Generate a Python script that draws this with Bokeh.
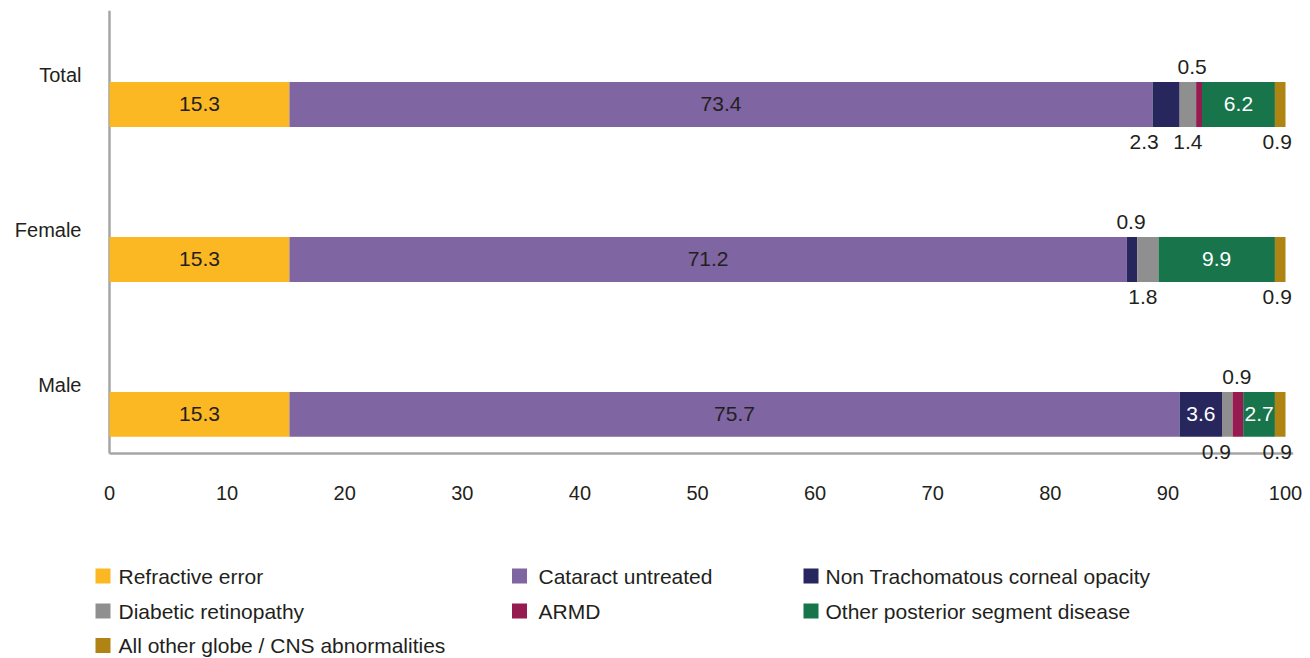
from bokeh.plotting import figure
from bokeh.models import ColumnDataSource, Range1d, FixedTicker
from bokeh.layouts import column
from bokeh.core.properties import value
from bokeh.embed import file_html
from bokeh.resources import INLINE

# ---- data -------------------------------------------------------------
categories = ["Total", "Female", "Male"]
series_names = [
    "Refractive error",
    "Cataract untreated",
    "Non Trachomatous corneal opacity",
    "Diabetic retinopathy",
    "ARMD",
    "Other posterior segment disease",
    "All other globe / CNS abnormalities",
]
refractive_error = [15.3, 15.3, 15.3]
cataract_untreated = [73.4, 71.2, 75.7]
corneal_opacity = [2.3, 0.9, 3.6]
diabetic_retinopathy = [1.4, 1.8, 0.9]
armd = [0.5, 0.0, 0.9]
posterior_segment = [6.2, 9.9, 2.7]
globe_cns = [0.9, 0.9, 0.9]
x_ticks = [0, 10, 20, 30, 40, 50, 60, 70, 80, 90, 100]

series_values = [refractive_error, cataract_untreated, corneal_opacity,
                 diabetic_retinopathy, armd, posterior_segment, globe_cns]

# ---- styling ------------------------------------------------------------
colors = ["#FBB823", "#7F65A1", "#27275D", "#8F8F8F", "#961B50", "#17744B", "#B08413"]
TEXT = "#231F20"
inside_text = [TEXT, TEXT, "#FFFFFF", TEXT, "#FFFFFF", "#FFFFFF", "#FFFFFF"]

# where each value label sits relative to its segment: in / above / below
placement = {
    "Total":  ["in", "in", "below", "below", "above", "in", "below"],
    "Female": ["in", "in", "above", "below", None, "in", "below"],
    "Male":   ["in", "in", "in", "below", "above", "in", "below"],
}
# small horizontal nudges (screen px) to keep neighbouring labels apart
nudge = {
    "Total":  [0, 0, -22, 0, -7, 0, -3],
    "Female": [0, 0, -1, -5, 0, 0, -3],
    "Male":   [0, 0, 0, -11, -1, 0, -3],
}

FONT = "Liberation Sans"
AXIS_GRAY = "#A6A6A6"

cat_y = {c: float(len(categories) - 1 - i) for i, c in enumerate(categories)}
bar_h = 0.29
label_lift = 0.19
y_floor = -0.252     # where the value axis sits
y_top = 2.606
x_end = 100.68

# frame is a little larger than the axis box so outside labels are not cut
p = figure(width=1310, height=530, output_backend="svg", toolbar_location=None,
           x_range=Range1d(-1.786, x_end), y_range=Range1d(-0.362, y_top),
           min_border_left=88, min_border_right=17, min_border_top=10,
           min_border_bottom=60)
p.outline_line_color = None
p.xgrid.visible = False
p.ygrid.visible = False

# axis lines
p.segment(x0=[0, 0], y0=[y_floor, y_floor], x1=[0, x_end], y1=[y_top, y_floor],
          line_color=AXIS_GRAY, line_width=2.5)

# ---- stacked bars -----------------------------------------------------
ys = [cat_y[c] for c in categories]
running = [0.0] * len(categories)
labels = dict(x=[], y=[], text=[], color=[], dx=[], dy=[])
for si, vals in enumerate(series_values):
    left = list(running)
    right = [l + v for l, v in zip(left, vals)]
    src = ColumnDataSource(dict(y=ys, left=left, right=right))
    p.hbar(y="y", left="left", right="right", height=bar_h,
           fill_color=colors[si], line_color=None, source=src)
    for ci, cat in enumerate(categories):
        where = placement[cat][si]
        if where is None:
            continue
        labels["x"].append(left[ci] + vals[ci] / 2)
        labels["y"].append(cat_y[cat])
        labels["text"].append(f"{vals[ci]:.1f}")
        labels["color"].append(inside_text[si] if where == "in" else TEXT)
        labels["dx"].append(nudge[cat][si])
        labels["dy"].append({"in": 0, "above": -37, "below": 38}[where])
    running = right

p.text(x="x", y="y", text="text", text_color="color", x_offset="dx", y_offset="dy",
       text_align="center", text_baseline="middle", text_font=value(FONT),
       text_font_size="21px", source=ColumnDataSource(labels))

# ---- axes (labels only; lines drawn above) ------------------------------
p.xaxis.ticker = FixedTicker(ticks=x_ticks)
p.xaxis.major_label_standoff = 15
tick_pos = [cat_y[c] + label_lift for c in categories]
p.yaxis.ticker = FixedTicker(ticks=tick_pos)
p.yaxis.major_label_overrides = {t: c for t, c in zip(tick_pos, categories)}
p.yaxis.major_label_standoff = 7
for ax in (p.xaxis, p.yaxis):
    ax.axis_line_color = None
    ax.major_tick_line_color = None
    ax.minor_tick_line_color = None
    ax.major_tick_out = 0
    ax.major_tick_in = 0
    ax.major_label_text_font = FONT
    ax.major_label_text_font_size = "20px"
    ax.major_label_text_color = TEXT

# ---- legend panel (pixel coordinates) -----------------------------------
leg = figure(width=1310, height=128, output_backend="svg", toolbar_location=None,
             x_range=Range1d(88, 1293), y_range=Range1d(128, 0),
             min_border_left=88, min_border_right=17, min_border_top=0,
             min_border_bottom=0)
leg.axis.visible = False
leg.xgrid.visible = False
leg.ygrid.visible = False
leg.outline_line_color = None

col_square = [102.5, 519, 810.5]
col_text = [118, 538, 825]
row_y = [45.5, 80.5, 115]
legend_src = dict(sx=[], tx=[], y=[], name=[], color=[])
for i, name in enumerate(series_names):
    r, c = divmod(i, 3)
    legend_src["sx"].append(col_square[c])
    legend_src["tx"].append(col_text[c])
    legend_src["y"].append(row_y[r])
    legend_src["name"].append(name)
    legend_src["color"].append(colors[i])
lsrc = ColumnDataSource(legend_src)
leg.scatter(x="sx", y="y", marker="square", size=15, fill_color="color",
            line_color=None, source=lsrc)
leg.text(x="tx", y="y", text="name", text_align="left", text_baseline="middle",
         text_font=value(FONT), text_font_size="21px", text_color=TEXT,
         source=lsrc)

layout = column(p, leg, spacing=0)
open("out.html", "w").write(file_html(layout, INLINE))
